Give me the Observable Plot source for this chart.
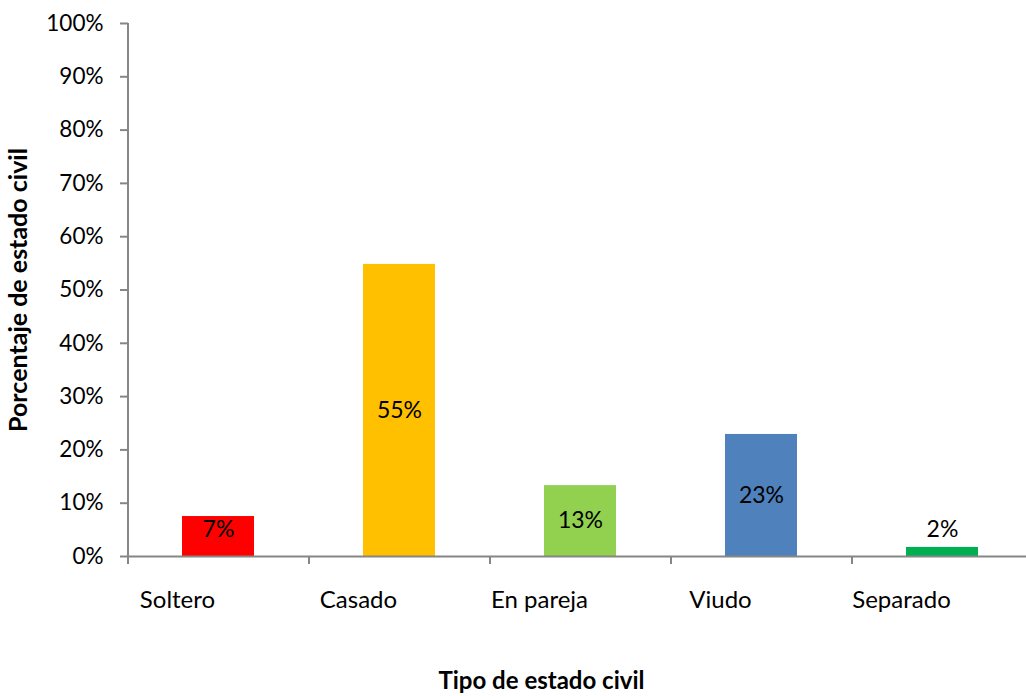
<!DOCTYPE html>
<html>
<head>
<meta charset="utf-8">
<script src="https://cdn.jsdelivr.net/npm/d3@7"></script>
<script src="https://cdn.jsdelivr.net/npm/@observablehq/plot@0.6"></script>
<style>
  html, body { margin: 0; padding: 0; background: #fff; }
  #chart svg { display: block; overflow: visible; }
</style>
</head>
<body>
<div id="chart"></div>
<script>
const categories = ["Soltero", "Casado", "En pareja", "Viudo", "Separado"];
const values = [0.075, 0.548, 0.133, 0.229, 0.017];
const labels = ["7%", "55%", "13%", "23%", "2%"];
const colors = ["#FF0000", "#FFC000", "#92D050", "#4F81BD", "#00B050"];
const yTicks = [0, 0.1, 0.2, 0.3, 0.4, 0.5, 0.6, 0.7, 0.8, 0.9, 1.0];
const xTitle = "Tipo de estado civil";
const yTitle = "Porcentaje de estado civil";

const data = categories.map((c, i) => ({
  cat: c, value: values[i], label: labels[i], color: colors[i],
  labelY: Math.max(values[i] / 2, 0.05)
}));

const FONT = "Lato, 'Open Sans', sans-serif";
const GRAY = "#868686";
const step = (1033 - 128) / categories.length;

const chart = Plot.plot({
  width: 1026,
  height: 696,
  marginTop: 23,
  marginBottom: 140,
  marginLeft: 128,
  marginRight: 0,
  style: { fontFamily: FONT, fontSize: "22px", color: "#000", background: "#fff" },
  x: { domain: categories, range: [128, 1033], paddingInner: 0.6, paddingOuter: 0.3, label: null },
  y: { domain: [0, 1], label: null },
  marks: [
    Plot.barY(data, { x: "cat", y: "value", fill: "color" }),
    Plot.text(data, { x: "cat", y: "labelY", text: "label", fill: "#000", fontSize: 23 }),
    // axis lines
    Plot.ruleY([0], { stroke: GRAY, strokeWidth: 2 }),
    Plot.ruleX([categories[0]], { y1: 0, y2: 1, dx: -step / 2, stroke: GRAY, strokeWidth: 2 }),
    // y axis
    Plot.axisY({ ticks: yTicks, tickFormat: d3.format(".0%"), tickSize: 8, tickPadding: 17,
      stroke: GRAY, strokeWidth: 2, label: null, fontSize: 22.5 }),
    // x tick marks at category boundaries
    Plot.axisX({ tickSize: 8, text: null, dx: -step / 2, stroke: GRAY, strokeWidth: 2, label: null }),
    // x labels
    Plot.axisX({ tickSize: 0, tickPadding: 34, dx: -41, label: null, fontSize: 24 }),
    // axis titles
    Plot.text([yTitle], { frameAnchor: "left", textAnchor: "middle", lineAnchor: "middle", rotate: -90, dx: -110, fontWeight: "bold", fontSize: 25 }),
    Plot.text([xTitle], { frameAnchor: "bottom", lineAnchor: "middle", dy: 125, dx: -36, fontWeight: "bold", fontSize: 24 })
  ]
});
document.getElementById("chart").appendChild(chart);
</script>
</body>
</html>
